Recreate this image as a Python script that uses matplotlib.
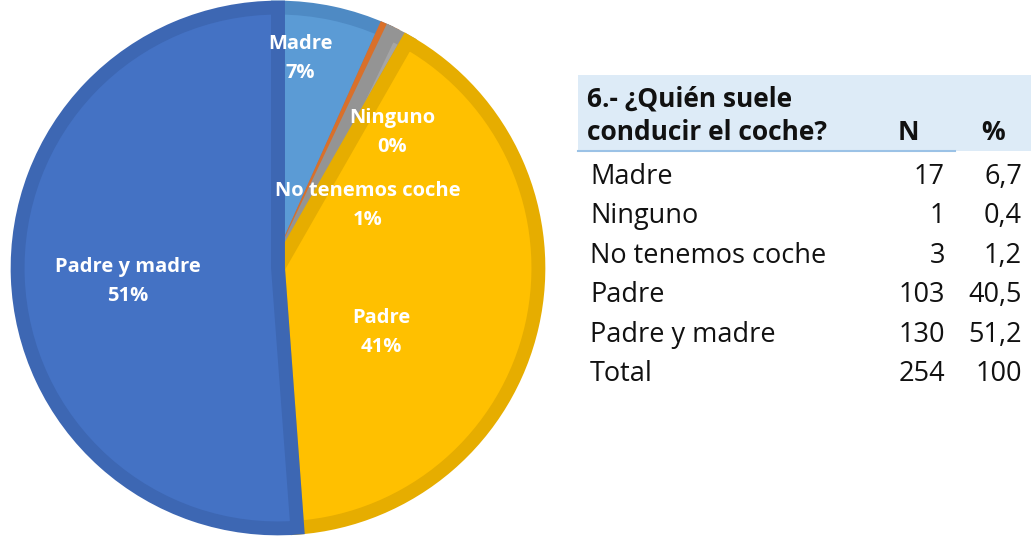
import matplotlib.pyplot as plt
import numpy as np
from matplotlib.patches import Rectangle

# Datos de la tabla / grafico
categorias = ["Madre", "Ninguno", "No tenemos coche", "Padre", "Padre y madre"]
n_valores = [17, 1, 3, 103, 130]
porcentajes = ["6,7", "0,4", "1,2", "40,5", "51,2"]
total_n = 254
total_pct = "100"
titulo = ["6.- ¿Quién suele", "conducir el coche?"]

# Colores estilo Excel (relleno y borde interior algo mas oscuro)
colores = ["#5B9BD5", "#ED7D31", "#A5A5A5", "#FFC000", "#4472C4"]
bordes = ["#4E8AC4", "#D9702A", "#949494", "#E6AD00", "#3D67B3"]

# posicion de las etiquetas: (angulo en grados, radio relativo)
pos_etiquetas = [(84, 0.81), (50, 0.68), (35, 0.42), (-32, 0.47), (185, 0.58)]

W, H = 1031, 538
fig = plt.figure(figsize=(W / 100, H / 100), dpi=100)

# --- Grafico de tarta ---
ax_pie = fig.add_axes([15 / W, 7 / H, 526 / W, 526 / H])
wedges, _ = ax_pie.pie(n_valores, colors=colores, startangle=90, counterclock=False, radius=1)
for w, b in zip(wedges, bordes):
    w.set_edgecolor(b)
    w.set_linewidth(10)
    w.set_clip_path(w)  # solo se ve la mitad interior del borde

total = sum(n_valores)
for cat, n, (ang, r) in zip(categorias, n_valores, pos_etiquetas):
    x = r * np.cos(np.radians(ang))
    y = r * np.sin(np.radians(ang))
    ax_pie.text(x, y, f"{cat}\n{round(100 * n / total)}%", ha="center", va="center",
                color="white", fontweight="bold", fontsize=14.5, family="Open Sans", linespacing=1.6)
ax_pie.set_xlim(-1.01, 1.01)
ax_pie.set_ylim(-1.01, 1.01)
ax_pie.set_aspect("equal")
ax_pie.axis("off")

# --- Tabla a la derecha (coordenadas en pixeles) ---
ax_t = fig.add_axes([0, 0, 1, 1], zorder=-1)
ax_t.set_xlim(0, W)
ax_t.set_ylim(H, 0)
ax_t.axis("off")

ax_t.add_patch(Rectangle((578, 75), W - 578, 76, color="#DDEBF7", lw=0))
ax_t.plot([578, 955], [151, 151], color="#9BC2E6", lw=1.5)

fuente = dict(family="Open Sans", fontsize=19, color="#111111")
ax_t.text(587, 99, titulo[0], ha="left", va="center", fontweight="bold", **fuente)
ax_t.text(587, 132, titulo[1], ha="left", va="center", fontweight="bold", **fuente)
ax_t.text(908, 132, "N", ha="center", va="center", fontweight="bold", **fuente)
ax_t.text(993, 132, "%", ha="center", va="center", fontweight="bold", **fuente)

fuente_filas = dict(fuente, fontsize=19.5)
filas = list(zip(categorias, n_valores, porcentajes)) + [("Total", total_n, total_pct)]
for i, (cat, n, p) in enumerate(filas):
    y = 177 + i * 39.4
    ax_t.text(590, y, cat, ha="left", va="center", **fuente_filas)
    ax_t.text(945, y, str(n), ha="right", va="center", **fuente_filas)
    ax_t.text(1022, y, p, ha="right", va="center", **fuente_filas)

fig.savefig("out.png", dpi=100)
